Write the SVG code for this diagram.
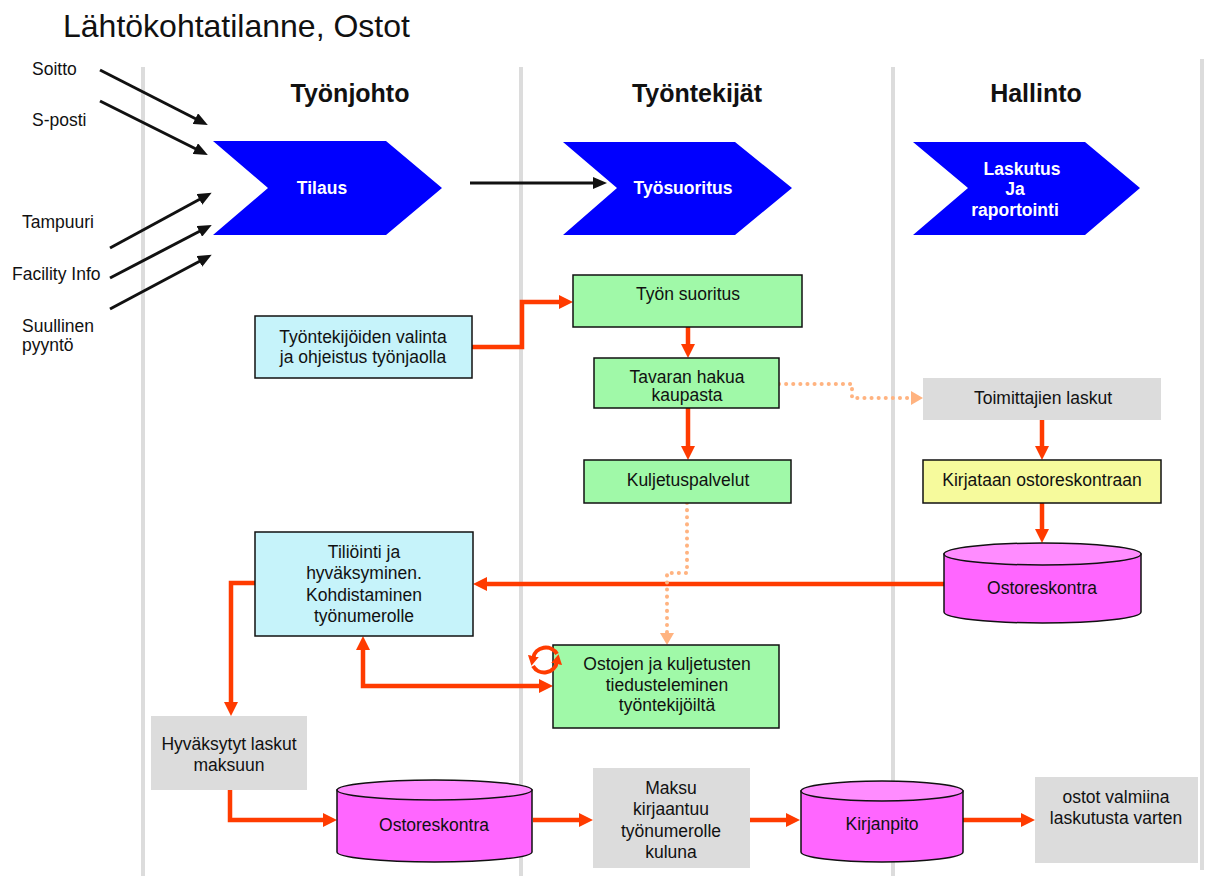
<svg xmlns="http://www.w3.org/2000/svg" width="1211" height="879" viewBox="0 0 1211 879">
<style>
text{font-family:"Liberation Sans",Arial,sans-serif;fill:#111}
.t{font-size:17.5px;text-anchor:middle}
.l{font-size:17.5px}
.h{font-size:25px;font-weight:bold;text-anchor:middle}
.cw{font-size:17.5px;font-weight:bold;fill:#fff;text-anchor:middle}
.lane{stroke:#dcdcdc;stroke-width:4;fill:none}
.chev{fill:#0000ff}
.g{fill:#a0f9a8;stroke:#111;stroke-width:1.5}
.b{fill:#c6f3fa;stroke:#111;stroke-width:1.5}
.y{fill:#f6fa9c;stroke:#111;stroke-width:1.5}
.gr{fill:#dcdcdc}
.cyl{fill:#ff66ff;stroke:#111;stroke-width:1.5}
.cyt{fill:#ff8cff;stroke:#111;stroke-width:1.5}
.bk{stroke:#111;stroke-width:3;fill:none}
.rd{stroke:#ff3b00;stroke-width:4.5;fill:none}
.ci{stroke:#ff3b00;stroke-width:4;fill:none}
.or{stroke:#ffb380;stroke-width:4;fill:none;stroke-dasharray:0.1 7;stroke-linecap:round}
</style>
<defs>
<marker id="ab" markerUnits="userSpaceOnUse" markerWidth="14" markerHeight="12" refX="3" refY="6" orient="auto"><path d="M0,0 L14,6 L0,12 z" fill="#111"/></marker>
<marker id="ar" markerUnits="userSpaceOnUse" markerWidth="14" markerHeight="14" refX="3" refY="7" orient="auto-start-reverse"><path d="M0,0 L14,7 L0,14 z" fill="#ff3b00"/></marker>
<marker id="as" markerUnits="userSpaceOnUse" markerWidth="10" markerHeight="11" refX="2" refY="5.5" orient="auto"><path d="M0,0 L10,5.5 L0,11 z" fill="#ff3b00"/></marker>
<marker id="ao" markerUnits="userSpaceOnUse" markerWidth="12" markerHeight="14" refX="2" refY="7" orient="auto"><path d="M0,0 L12,7 L0,14 z" fill="#ffb380"/></marker>
</defs>
<rect width="1211" height="879" fill="#fff"/>
<text x="63" y="37" style="font-size:32px">Lähtökohtatilanne, Ostot</text>
<g id="lanes">
<line class="lane" x1="143" y1="67" x2="143" y2="876"/>
<line class="lane" x1="521" y1="67" x2="521" y2="876"/>
<line class="lane" x1="893" y1="67" x2="893" y2="876"/>
<line class="lane" x1="1202" y1="59" x2="1202" y2="870"/>
</g>
<g id="headers">
<text class="h" x="350" y="102">Työnjohto</text>
<text class="h" x="697" y="102">Työntekijät</text>
<text class="h" x="1036" y="102">Hallinto</text>
</g>
<g id="sources">
<text class="l" x="32" y="75">Soitto</text>
<text class="l" x="32" y="126">S-posti</text>
<text class="l" x="22" y="228">Tampuuri</text>
<text class="l" x="12" y="280">Facility Info</text>
<text class="l" x="22" y="332">Suullinen</text>
<text class="l" x="22" y="351">pyyntö</text>
</g>
<g id="connectors">
<path class="bk" d="M100,70 L198,120" marker-end="url(#ab)"/>
<path class="bk" d="M100,101 L198,150" marker-end="url(#ab)"/>
<path class="bk" d="M110,248 L202,198" marker-end="url(#ab)"/>
<path class="bk" d="M110,278 L202,230" marker-end="url(#ab)"/>
<path class="bk" d="M110,309 L202,260" marker-end="url(#ab)"/>
<path class="bk" d="M470,183 H596" marker-end="url(#ab)"/>
<path class="rd" d="M472,347 H522 V302 H562" marker-end="url(#ar)"/>
<path class="rd" d="M688,327 V347" marker-end="url(#ar)"/>
<path class="rd" d="M688,408 V449" marker-end="url(#ar)"/>
<path class="rd" d="M1042,420 V449" marker-end="url(#ar)"/>
<path class="rd" d="M1042,503 V532" marker-end="url(#ar)"/>
<path class="rd" d="M944,584 H484" marker-end="url(#ar)"/>
<path class="rd" d="M255,583 H231 V705" marker-end="url(#ar)"/>
<path class="rd" d="M363,647 V686 H542" marker-start="url(#ar)" marker-end="url(#ar)"/>
<path class="rd" d="M230,789 V820 H326" marker-end="url(#ar)"/>
<path class="rd" d="M533,820 H582" marker-end="url(#ar)"/>
<path class="rd" d="M750,820 H789" marker-end="url(#ar)"/>
<path class="rd" d="M963,820 H1024" marker-end="url(#ar)"/>
<path class="or" d="M779,384 H852 V398 H913" marker-end="url(#ao)"/>
<path class="or" d="M687,503 V573 H667 V635" marker-end="url(#ao)"/>
</g>
<g id="tilaus">
<polygon class="chev" points="213,141 386,141 442,188 386,235 213,235 268,188"/>
<text class="cw" x="322" y="194">Tilaus</text>
</g>
<g id="tyosuoritus">
<polygon class="chev" points="563,142 735,142 792,188 735,235 563,235 617,188"/>
<text class="cw" x="683" y="194">Työsuoritus</text>
</g>
<g id="laskutus">
<polygon class="chev" points="913,142 1085,142 1140,188 1085,235 913,235 968,188"/>
<text class="cw" x="1022" y="175">Laskutus</text>
<text class="cw" x="1015" y="195">Ja</text>
<text class="cw" x="1015" y="216">raportointi</text>
</g>
<g id="valinta">
<rect class="b" x="255" y="316" width="217" height="62"/>
<text class="t" x="363" y="343">Työntekijöiden valinta</text>
<text class="t" x="363" y="363">ja ohjeistus työnjaolla</text>
</g>
<g id="tyon-suoritus">
<rect class="g" x="573" y="275" width="229" height="52"/>
<text class="t" x="688" y="300">Työn suoritus</text>
</g>
<g id="tavaran">
<rect class="g" x="594" y="358" width="185" height="50"/>
<text class="t" x="687" y="383">Tavaran hakua</text>
<text class="t" x="687" y="401">kaupasta</text>
</g>
<g id="kuljetus">
<rect class="g" x="584" y="460" width="207" height="43"/>
<text class="t" x="688" y="486">Kuljetuspalvelut</text>
</g>
<g id="toimittajien">
<rect class="gr" x="923" y="378" width="238" height="42"/>
<text class="t" x="1043" y="404">Toimittajien laskut</text>
</g>
<g id="kirjataan">
<rect class="y" x="923" y="460" width="238" height="43"/>
<text class="t" x="1042" y="486">Kirjataan ostoreskontraan</text>
</g>
<g id="ostoreskontra1">
<path class="cyl" d="M944,554 V612 A98.5,11 0 0 0 1141,612 V554 Z"/>
<ellipse class="cyt" cx="1042.5" cy="554" rx="98.5" ry="11"/>
<text class="t" x="1042" y="594">Ostoreskontra</text>
</g>
<g id="tiliointi">
<rect class="b" x="255" y="532" width="218" height="104"/>
<text class="t" x="364" y="558">Tiliöinti ja</text>
<text class="t" x="364" y="579">hyväksyminen.</text>
<text class="t" x="364" y="601">Kohdistaminen</text>
<text class="t" x="364" y="622">työnumerolle</text>
</g>
<g id="ostojen">
<rect class="g" x="553" y="645" width="226" height="83"/>
<text class="t" x="667" y="670">Ostojen ja kuljetusten</text>
<text class="t" x="667" y="691">tiedusteleminen</text>
<text class="t" x="667" y="711">työntekijöiltä</text>
<path class="ci" d="M557,654 A13,13 0 0 0 533,658" marker-end="url(#as)"/>
<path class="ci" d="M533,666 A13,13 0 0 0 557,662" marker-end="url(#as)"/>
</g>
<g id="hyvaksytyt">
<rect class="gr" x="151" y="716" width="156" height="74"/>
<text class="t" x="229" y="750">Hyväksytyt laskut</text>
<text class="t" x="229" y="771">maksuun</text>
</g>
<g id="ostoreskontra2">
<path class="cyl" d="M337,790 V852 A97.5,10 0 0 0 532,852 V790 Z"/>
<ellipse class="cyt" cx="434.5" cy="790" rx="97.5" ry="10"/>
<text class="t" x="434" y="831">Ostoreskontra</text>
</g>
<g id="maksu">
<rect class="gr" x="593" y="768" width="157" height="100"/>
<text class="t" x="671" y="794">Maksu</text>
<text class="t" x="671" y="815">kirjaantuu</text>
<text class="t" x="671" y="837">työnumerolle</text>
<text class="t" x="671" y="858">kuluna</text>
</g>
<g id="kirjanpito">
<path class="cyl" d="M801,791 V852 A81,10 0 0 0 963,852 V791 Z"/>
<ellipse class="cyt" cx="882" cy="791" rx="81" ry="10"/>
<text class="t" x="882" y="830">Kirjanpito</text>
</g>
<g id="ostot">
<rect class="gr" x="1035" y="777" width="163" height="86"/>
<text class="t" x="1116" y="803">ostot valmiina</text>
<text class="t" x="1116" y="824">laskutusta varten</text>
</g>
</svg>
